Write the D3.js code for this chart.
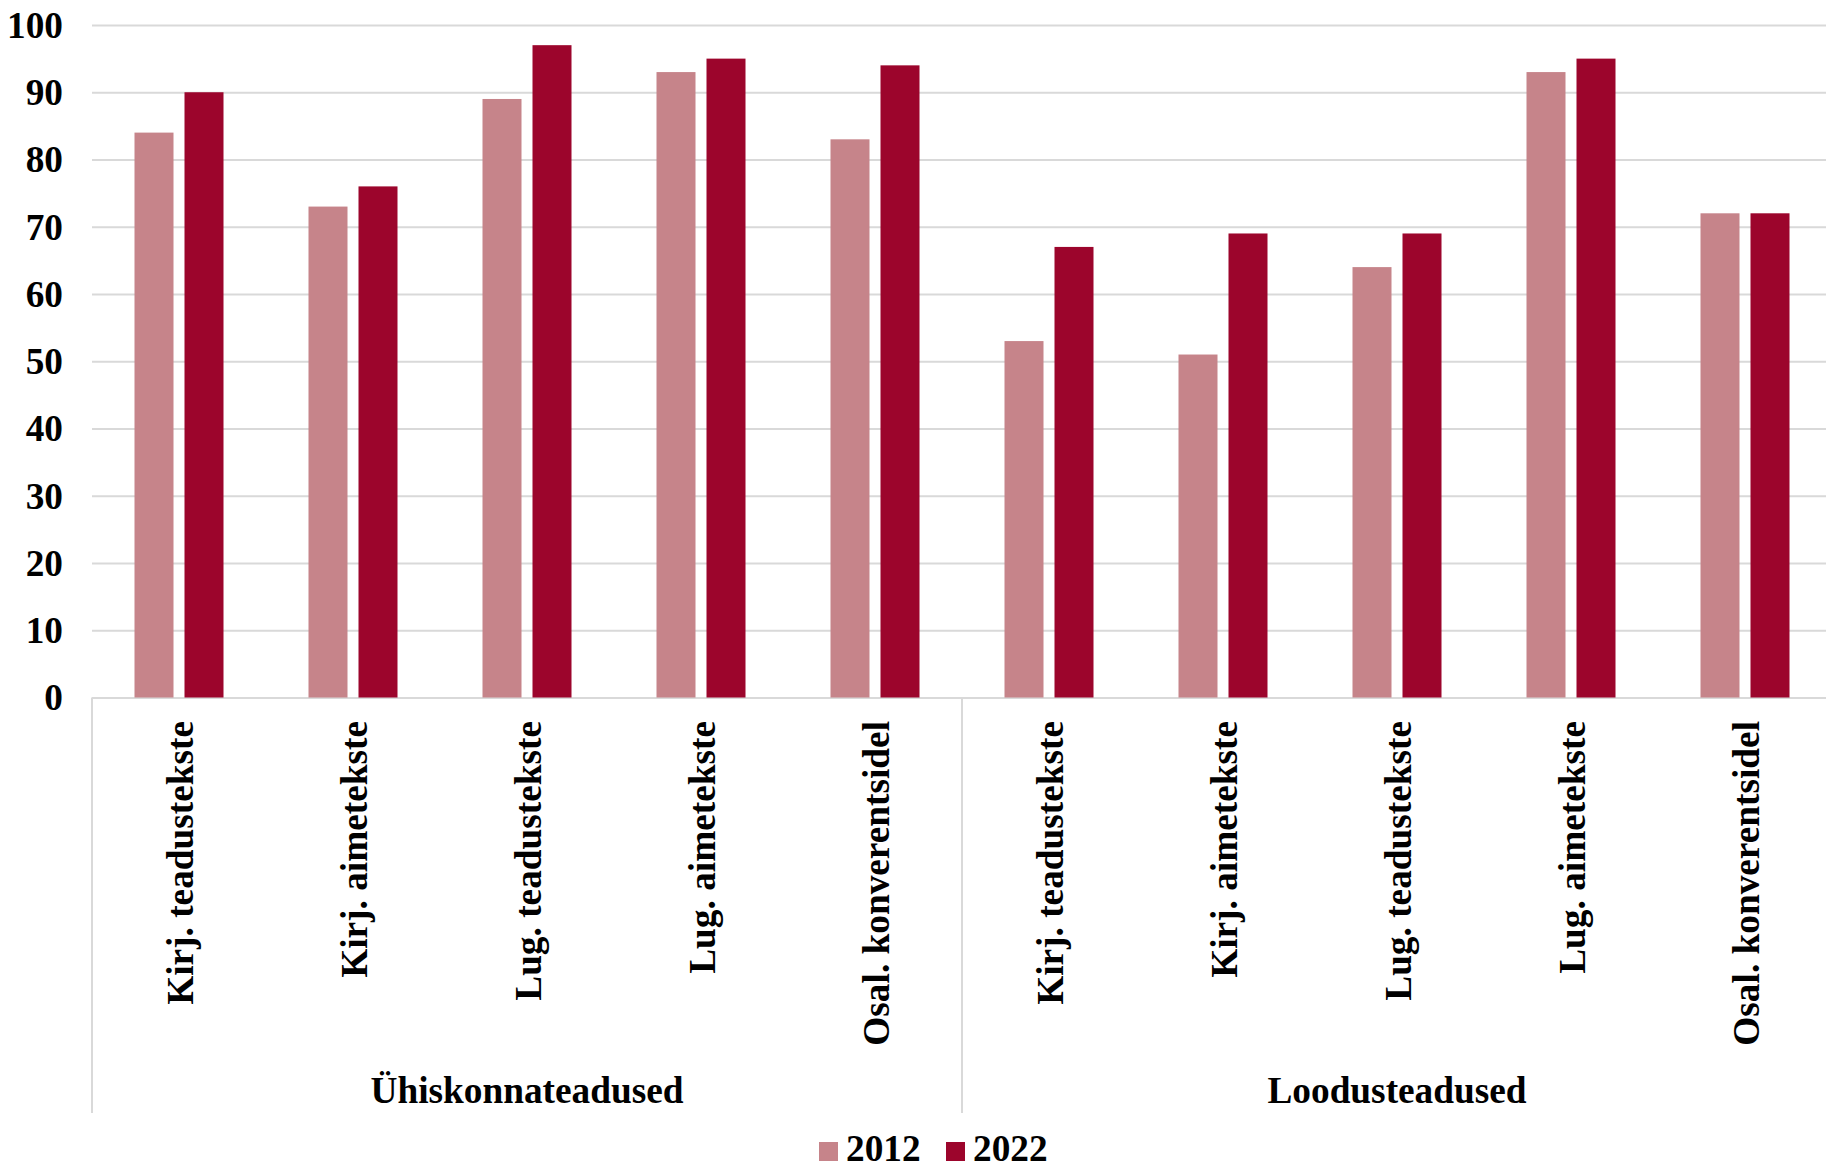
<!DOCTYPE html>
<html>
<head>
<meta charset="utf-8">
<script src="https://cdn.jsdelivr.net/npm/d3@7/dist/d3.min.js"></script>
<style>
  html, body { margin: 0; padding: 0; background: #ffffff; }
  svg { display: block; }
  text { font-family: "Liberation Serif", "Times New Roman", serif; font-weight: bold; fill: #000; }
</style>
</head>
<body>
<svg id="chart" width="1826" height="1170"></svg>
<script>
// Subject groups and the text-type categories within each
const groups = ["Ühiskonnateadused", "Loodusteadused"];
const categories = [
  "Kirj. teadustekste", "Kirj. aimetekste", "Lug. teadustekste",
  "Lug. aimetekste", "Osal. konverentsidel"
];
const seriesNames = ["2012", "2022"];
const values2012 = [84, 73, 89, 93, 83, 53, 51, 64, 93, 72];
const values2022 = [90, 76, 97, 95, 94, 67, 69, 69, 95, 72];
const yTicks = [0, 10, 20, 30, 40, 50, 60, 70, 80, 90, 100];
const colors = ["#c6848a", "#9c052c"];

(function draw() {
  const plotLeft = 92, plotRight = 1832, plotTop = 25, plotBottom = 697.5;
  const fontSize = 37.3;

  const svg = d3.select("#chart");

  // one slot per (group, category)
  const slots = [];
  groups.forEach((g, gi) => categories.forEach((c, ci) => {
    const i = gi * categories.length + ci;
    slots.push({ key: g + "|" + c, group: g, label: c, v: [values2012[i], values2022[i]] });
  }));

  const x = d3.scaleBand().domain(slots.map(d => d.key)).range([plotLeft, plotRight]).paddingInner(0).paddingOuter(0);
  const bw = x.bandwidth();
  const xs = d3.scaleBand().domain(seriesNames).range([0, 89]).paddingInner(11 / 50).paddingOuter(0);
  const y = d3.scaleLinear().domain([0, 100]).range([plotBottom, plotTop]);

  // horizontal gridlines and value labels
  const yAxis = d3.axisLeft(y).tickValues(yTicks).tickSize(-(plotRight - plotLeft)).tickFormat(d3.format("d")).tickPadding(29);
  const gy = svg.append("g").attr("transform", `translate(${plotLeft},0)`).call(yAxis);
  gy.select(".domain").remove();
  gy.selectAll(".tick line").attr("stroke", "#d9d9d9").attr("stroke-width", 2);
  gy.selectAll(".tick text")
    .attr("font-size", fontSize)
    .attr("font-family", "Liberation Serif, Times New Roman, serif")
    .attr("font-weight", "bold")
    .attr("fill", "#000")
    .attr("dy", "0.33em");

  // bars
  const groupOffset = (bw - 89) / 2;
  const gBars = svg.append("g");
  slots.forEach(s => {
    gBars.selectAll(null)
      .data(seriesNames.map((n, k) => ({ name: n, value: s.v[k], k })))
      .join("rect")
      .attr("x", d => x(s.key) + groupOffset + xs(d.name))
      .attr("width", xs.bandwidth())
      .attr("y", d => y(d.value))
      .attr("height", d => y(0) - y(d.value))
      .attr("fill", d => colors[d.k]);
  });

  // category separators below the axis
  const sepBottom = 1113;
  const groupEdges = [plotLeft, plotLeft + bw * categories.length, plotRight];
  svg.append("g").selectAll("line").data(groupEdges).join("line")
    .attr("x1", d => d).attr("x2", d => d)
    .attr("y1", plotBottom).attr("y2", sepBottom)
    .attr("stroke", "#d9d9d9").attr("stroke-width", 2);

  // rotated category labels
  svg.append("g").selectAll("text").data(slots).join("text")
    .attr("transform", d => `translate(${x(d.key) + bw / 2},721) rotate(-90)`)
    .attr("text-anchor", "end")
    .attr("dy", "0.37em")
    .attr("font-size", fontSize)
    .text(d => d.label);

  // group labels
  svg.append("g").selectAll("text").data(groups).join("text")
    .attr("x", (d, i) => plotLeft + bw * categories.length * (i + 0.5))
    .attr("y", 1103)
    .attr("text-anchor", "middle")
    .attr("font-size", fontSize)
    .text(d => d);

  // legend
  const legend = svg.append("g");
  const legendX = [819, 946];
  seriesNames.forEach((n, k) => {
    legend.append("rect").attr("x", legendX[k]).attr("y", 1142).attr("width", 19).attr("height", 19).attr("fill", colors[k]);
    legend.append("text").attr("x", legendX[k] + 27).attr("y", 1161).attr("font-size", fontSize).text(n);
  });
})();
</script>
</body>
</html>
